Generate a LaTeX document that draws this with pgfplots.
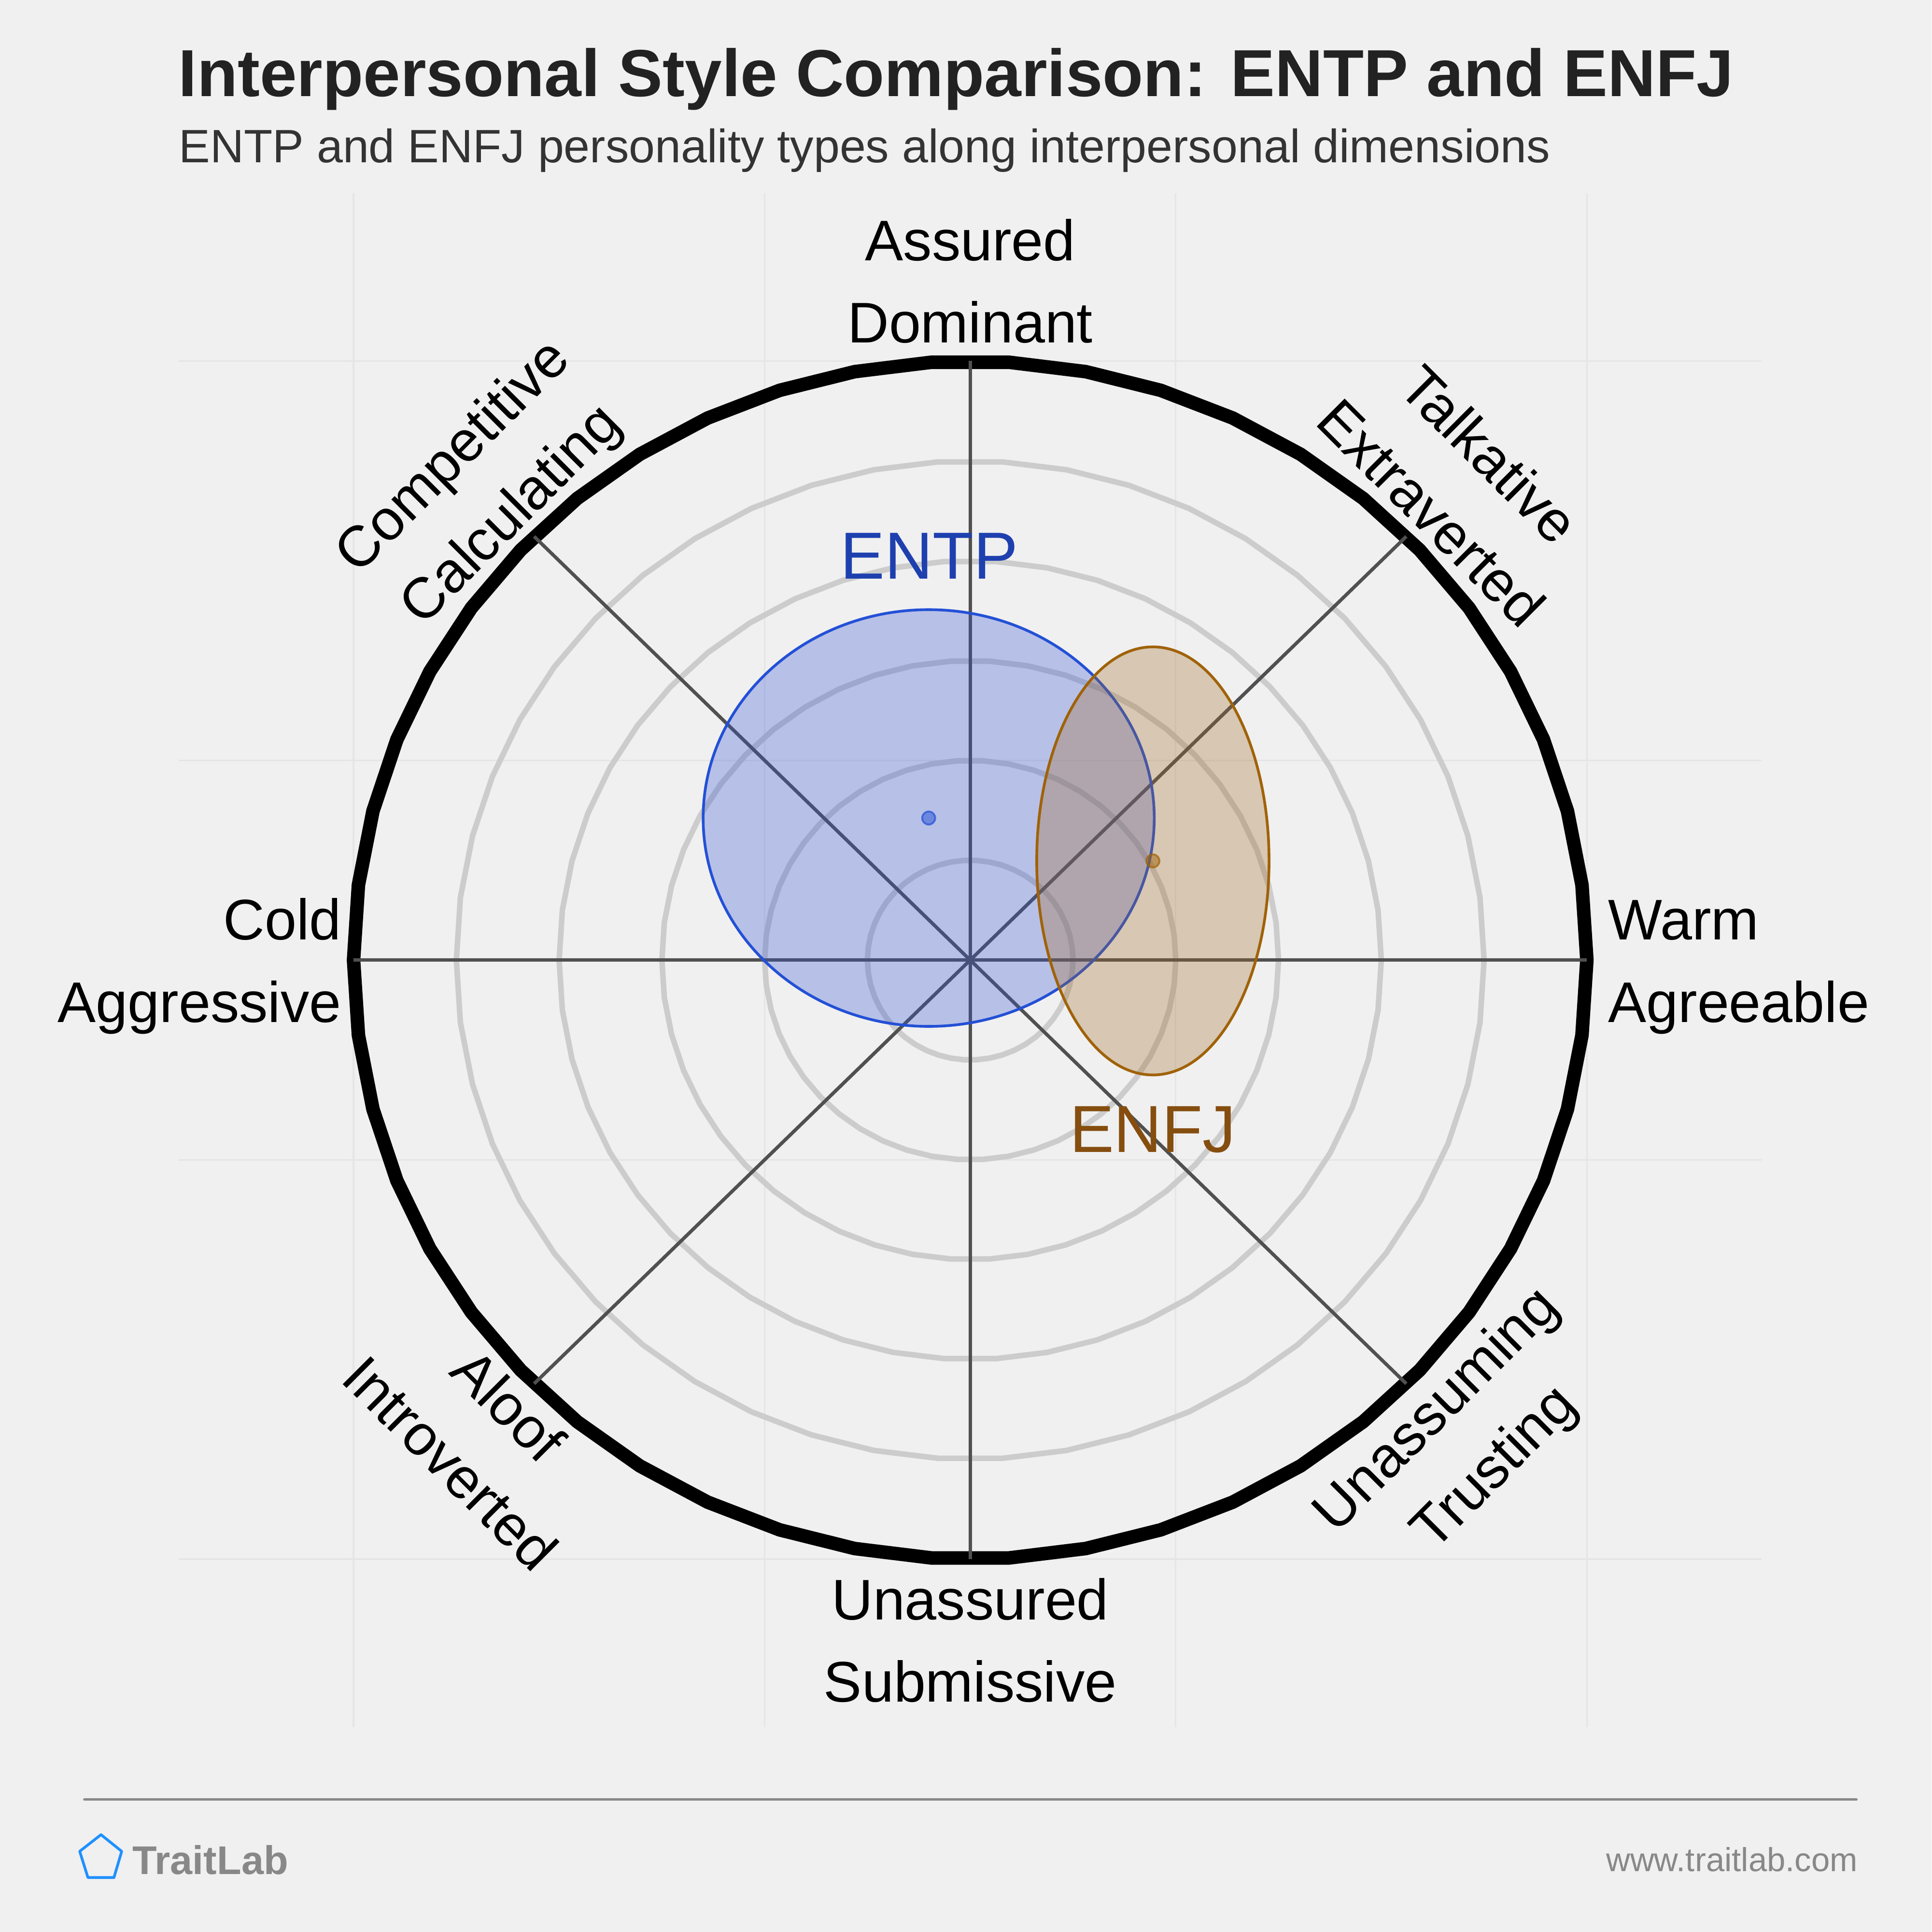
\documentclass[border=0pt]{standalone}
\usepackage{pgfplots}
\pgfplotsset{compat=1.18}
\usepackage{fontspec}
\setmainfont{Liberation Sans}
\definecolor{bg}{HTML}{F0F0F0}
\definecolor{gridc}{HTML}{E5E5E5}
\definecolor{ringc}{HTML}{CCCCCC}
\definecolor{axc}{HTML}{505050}
\definecolor{entp}{RGB}{35,80,214}
\definecolor{entpfill}{RGB}{53,83,213}
\definecolor{entptext}{RGB}{30,64,175}
\definecolor{enfj}{RGB}{160,98,8}
\definecolor{enfjfill}{RGB}{160,105,40}
\definecolor{enfjtext}{RGB}{133,78,15}
\definecolor{titlec}{HTML}{222222}
\definecolor{subc}{HTML}{333333}
\definecolor{footc}{HTML}{888888}
\definecolor{logoc}{HTML}{1E90FF}
\begin{document}
\begin{tikzpicture}
\begin{axis}[
  width=1568bp, height=1568bp, scale only axis,
  xmin=0, xmax=1568, ymin=0, ymax=1568, y dir=reverse,
  axis lines=none, ticks=none, clip=false,
  every node/.style={inner sep=0pt, outer sep=0pt},
]
% background
\fill[bg] (axis cs:0,0) rectangle (axis cs:1568,1568);
% faint grid
\pgfplotsinvokeforeach{287,620.8,954.4,1288.2}{
  \draw[gridc, line width=1.3bp] (axis cs:#1,156.7) -- (axis cs:#1,1401.7);
}
\pgfplotsinvokeforeach{293,617.1,941.3,1265.4}{
  \draw[gridc, line width=1.3bp] (axis cs:145.1,#1) -- (axis cs:1430.1,#1);
}
% rings
\pgfplotsinvokeforeach{1,2,3,4,5}{
  \draw[ringc, line width=4.5bp, line join=round]
    plot[domain=0:360, samples=51, variable=\t]
    (axis cs:{787.6+83.43*#1*cos(\t)},{779.2-81.03*#1*sin(\t)}) -- cycle;
}
\draw[black, line width=11bp, line join=round]
  plot[domain=0:360, samples=51, variable=\t]
  (axis cs:{787.6+500.6*cos(\t)},{779.2-486.2*sin(\t)}) -- cycle;
% axis lines
\draw[axc, line width=2.8bp] (axis cs:287,779.2) -- (axis cs:1288.2,779.2);
\draw[axc, line width=2.8bp] (axis cs:787.6,293) -- (axis cs:787.6,1265.4);
\draw[axc, line width=2.8bp] (axis cs:433.6,435.4) -- (axis cs:1141.6,1123.0);
\draw[axc, line width=2.8bp] (axis cs:433.6,1123.0) -- (axis cs:1141.6,435.4);
% ENTP
\draw[entp, line width=2.2bp, fill=entpfill, fill opacity=0.3]
  (axis cs:753.9,663.9) ellipse [x radius=183.1, y radius=169.1];
\addplot[only marks, mark=*, mark size=5.3bp,
  mark options={draw=entp, draw opacity=0.7, fill=entp, fill opacity=0.5, line width=1.5bp}]
  coordinates {(753.9,663.9)};
% ENFJ
\draw[enfj, line width=2.2bp, fill=enfjfill, fill opacity=0.3]
  (axis cs:935.9,698.7) ellipse [x radius=94.3, y radius=173.7];
\addplot[only marks, mark=*, mark size=5.3bp,
  mark options={draw=enfj, draw opacity=0.7, fill=enfj, fill opacity=0.5, line width=1.5bp}]
  coordinates {(935.9,698.7)};
% group labels
\node[anchor=base, text=entptext, font=\fontsize{54bp}{60bp}\selectfont] at (axis cs:754.3,470) {ENTP};
\node[anchor=base, text=enfjtext, font=\fontsize{54bp}{60bp}\selectfont] at (axis cs:935.8,935) {ENFJ};
% axis labels
\pgfplotsset{/tikz/axlab/.style={font=\fontsize{46.5bp}{56bp}\selectfont, text=black}}
\node[axlab, anchor=base] at (axis cs:787.6,211.3) {Assured};
\node[axlab, anchor=base] at (axis cs:787.6,278) {Dominant};
\node[axlab, anchor=base] at (axis cs:787.6,1314.6) {Unassured};
\node[axlab, anchor=base] at (axis cs:787.6,1381.3) {Submissive};
\node[axlab, anchor=base east] at (axis cs:280.5,762.8) {Cold};
\node[axlab, anchor=base east] at (axis cs:280.5,829.5) {Aggressive};
\node[axlab, anchor=base west] at (axis cs:1302,762.8) {Warm};
\node[axlab, anchor=base west] at (axis cs:1302,829.5) {Agreeable};
\node[axlab, anchor=base, rotate=45] at (axis cs:377.6,380.4) {Competitive};
\node[axlab, anchor=base, rotate=45] at (axis cs:424.7,427.5) {Calculating};
\node[axlab, anchor=base, rotate=-45] at (axis cs:1197.4,380.4) {Talkative};
\node[axlab, anchor=base, rotate=-45] at (axis cs:1150.3,427.5) {Extraverted};
\node[axlab, anchor=base, rotate=-45] at (axis cs:401.2,1152) {Aloof};
\node[axlab, anchor=base, rotate=-45] at (axis cs:354.1,1199.1) {Introverted};
\node[axlab, anchor=base, rotate=45] at (axis cs:1176,1154) {Unassuming};
\node[axlab, anchor=base, rotate=45] at (axis cs:1223,1201) {Trusting};
% title
\node[anchor=base west, text=titlec, font=\fontsize{54bp}{60bp}\selectfont\bfseries] at (axis cs:141.5,78.4) {Interpersonal Style Comparison: ENTP and ENFJ};
\node[anchor=base west, text=subc, font=\fontsize{38bp}{44bp}\selectfont] at (axis cs:141.8,132) {ENTP and ENFJ personality types along interpersonal dimensions};
% footer
\draw[footc, line width=2bp, line cap=round] (axis cs:68.5,1460.5) -- (axis cs:1507,1460.5);
\draw[logoc, line width=2.2bp, line join=round] (axis cs:82,1489) -- (axis cs:98.8,1502.5) -- (axis cs:92.5,1523.8) -- (axis cs:71.4,1523.8) -- (axis cs:64.7,1502.5) -- cycle;
\node[anchor=base west, text=footc, font=\fontsize{32.5bp}{36bp}\selectfont\bfseries] at (axis cs:104,1521) {TraitLab};
\node[anchor=base east, text=footc, font=\fontsize{27bp}{30bp}\selectfont] at (axis cs:1511.5,1518.6) {www.traitlab.com};
\end{axis}
\end{tikzpicture}
\end{document}
